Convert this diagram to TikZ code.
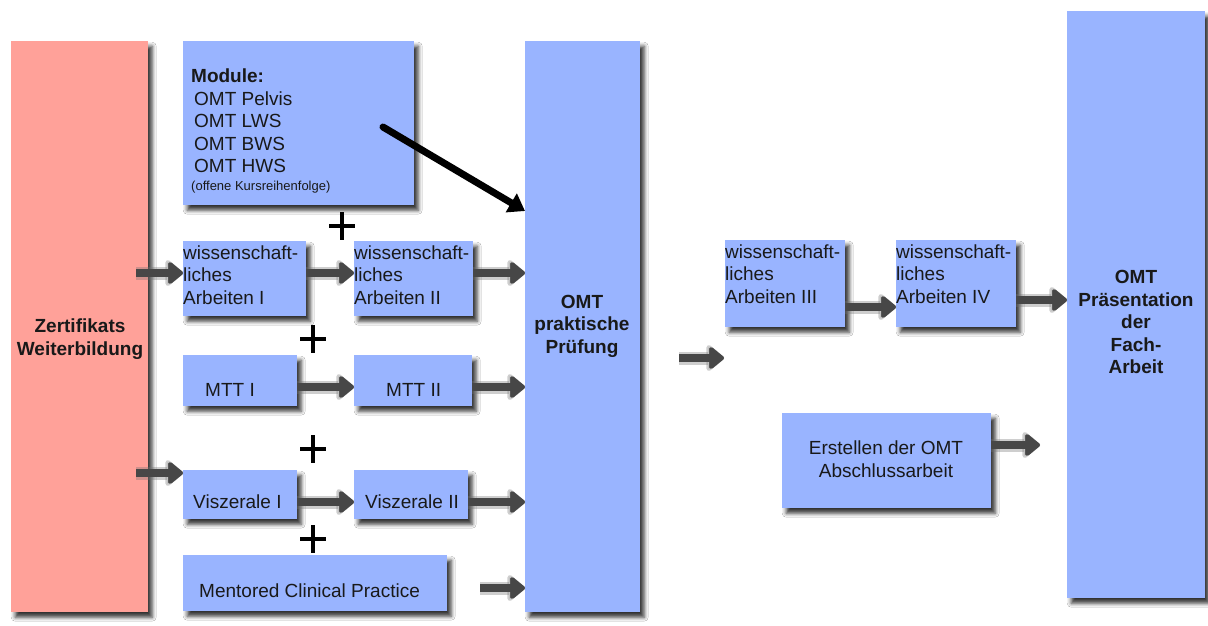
\documentclass[tikz,border=0pt]{standalone}
\usepackage{fontspec}
\setmainfont{Liberation Sans}
\usetikzlibrary{arrows.meta,shadows.blur}
\definecolor{boxblue}{RGB}{153,180,255}
\definecolor{boxred}{RGB}{255,161,153}
\tikzset{
  box/.style={fill=boxblue, draw=none, anchor=north west, inner sep=0pt,
    blur shadow={shadow xshift=4pt, shadow yshift=-5pt, shadow blur radius=4pt, shadow opacity=80}},
  redbox/.style={box, fill=boxred},
  txt/.style={font=\fontsize{19}{22.5}\selectfont, text=black!90, inner sep=0pt, align=left},
  btxt/.style={txt, font=\fontsize{19}{22.5}\selectfont\bfseries, align=center},
  smalltxt/.style={font=\fontsize{13}{15}\selectfont, text=black!90, inner sep=0pt},
  garr/.style={
    preaction={draw=black!55, draw opacity=0.35, line width=13pt, -{Triangle[width=30pt,length=19pt,round]}},
    line width=8pt, draw=black!72, -{Triangle[width=25pt,length=16pt,round]}},
  karr/.style={line width=7pt, draw=black, line cap=round, -{Triangle[width=21pt,length=16pt]}},
  plus/.style={line width=3.5pt, draw=black}
}
\begin{document}
\begin{tikzpicture}[x=1pt,y=-1pt]
\useasboundingbox[fill=white] (0,0) rectangle (1208,625);
% boxes
\node[redbox, minimum width=137pt, minimum height=571pt] (red) at (11,41) {};
\node[box, minimum width=231pt, minimum height=164pt] (mod) at (183,41) {};
\node[box, minimum width=115pt, minimum height=571pt] (omt) at (525,41) {};
\node[box, minimum width=123pt, minimum height=75pt] (wa1) at (183,241) {};
\node[box, minimum width=119pt, minimum height=75pt] (wa2) at (354,241) {};
\node[box, minimum width=114pt, minimum height=51pt] (mtt1) at (183,355) {};
\node[box, minimum width=118pt, minimum height=51pt] (mtt2) at (354,355) {};
\node[box, minimum width=114pt, minimum height=49pt] (vi1) at (183,470) {};
\node[box, minimum width=114pt, minimum height=49pt] (vi2) at (354,470) {};
\node[box, minimum width=264pt, minimum height=56pt] (mcp) at (183,555) {};
\node[box, minimum width=120pt, minimum height=87pt] (wa3) at (725,240) {};
\node[box, minimum width=120pt, minimum height=87pt] (wa4) at (896,240) {};
\node[box, minimum width=209pt, minimum height=95pt] (ers) at (782,413) {};
\node[box, minimum width=138pt, minimum height=587pt] (pra) at (1067,11) {};
% texts
\node[btxt] (t-red) at (80,339) {Zertifikats\\Weiterbildung};
\node[txt, anchor=west] (t-mod) at (191,121) {\textbf{Module:}\\\hspace{3pt}OMT Pelvis\\\hspace{3pt}OMT LWS\\\hspace{3pt}OMT BWS\\\hspace{3pt}OMT HWS};
\node[smalltxt, anchor=west] (t-mod2) at (191,187) {(offene Kursreihenfolge)};
\node[btxt] (t-omt) at (582,326) {OMT\\praktische\\Prüfung};
\node[txt, anchor=west] (t-wa1) at (183,275) {wissenschaft-\\liches\\Arbeiten I};
\node[txt, anchor=west] (t-wa2) at (354,275) {wissenschaft-\\liches\\Arbeiten II};
\node[txt, anchor=west] (t-mtt1) at (205,390) {MTT I};
\node[txt, anchor=west] (t-mtt2) at (386,390) {MTT II};
\node[txt, anchor=west] (t-vi1) at (193,502) {Viszerale I};
\node[txt, anchor=west] (t-vi2) at (365,502) {Viszerale II};
\node[txt, anchor=west] (t-mcp) at (199,591) {Mentored Clinical Practice};
\node[txt, anchor=west] (t-wa3) at (725,274) {wissenschaft-\\liches\\Arbeiten III};
\node[txt, anchor=west] (t-wa4) at (896,274) {wissenschaft-\\liches\\Arbeiten IV};
\node[txt, align=center] (t-ers) at (886,459) {Erstellen der OMT\\Abschlussarbeit};
\node[btxt] (t-pra) at (1136,322) {OMT\\Präsentation\\der\\Fach-\\Arbeit};
% plus signs
\foreach \px/\py in {342/226, 313/339, 313/449, 313/539} {
  \draw[plus] (\px-13,\py) -- (\px+13,\py);
  \draw[plus] (\px,\py-14) -- (\px,\py+14);
}
% free ends
\coordinate (mcpstart) at (480,588);
\coordinate (midstart) at (679,358);
\coordinate (midend) at (724,358);
\coordinate (ersend) at (1040,445);
\coordinate (modstart) at (383,127);
% arrows
\draw[garr] (red.east |- 0,273) ++(-12,0) -- (wa1.west |- 0,273);
\draw[garr] (wa1.east |- 0,273) -- (wa2.west |- 0,273);
\draw[garr] (wa2.east |- 0,273) -- (omt.west |- 0,273);
\draw[garr] (mtt1.east |- 0,387) -- (mtt2.west |- 0,387);
\draw[garr] (mtt2.east |- 0,387) -- (omt.west |- 0,387);
\draw[garr] (red.east |- 0,473) ++(-12,0) -- (vi1.west |- 0,473);
\draw[garr] (vi1.east |- 0,502) -- (vi2.west |- 0,502);
\draw[garr] (vi2.east |- 0,502) -- (omt.west |- 0,502);
\draw[garr] (mcpstart) -- (omt.west |- mcpstart);
\draw[garr] (midstart) -- (midend);
\draw[garr] (wa3.east |- 0,307) -- (wa4.west |- 0,307);
\draw[garr] (wa4.east |- 0,300) -- (pra.west |- 0,300);
\draw[garr] (ers.east |- ersend) -- (ersend);
\draw[karr] (modstart) -- (omt.west |- 0,211);
\end{tikzpicture}
\end{document}
